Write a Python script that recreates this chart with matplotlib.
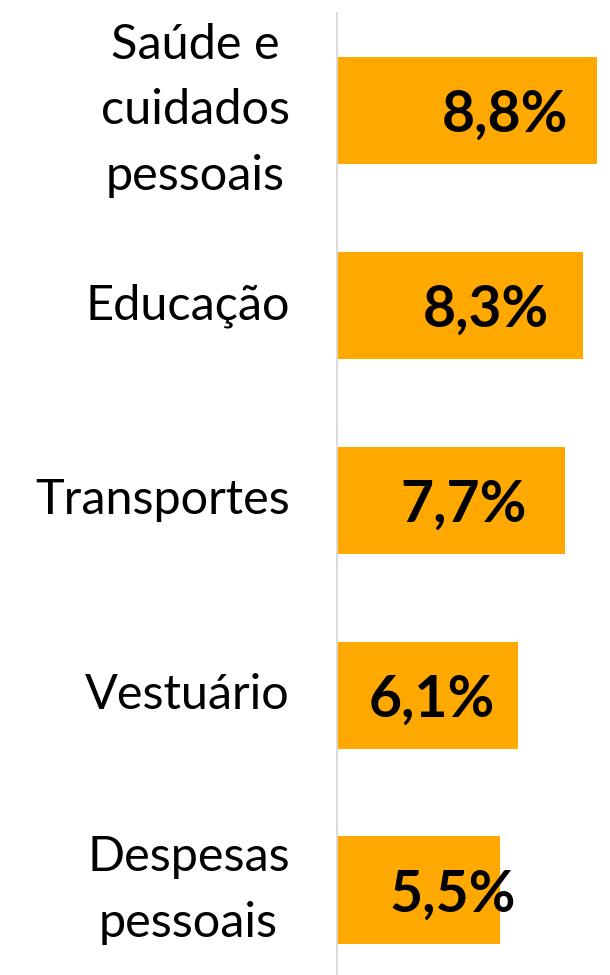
import matplotlib
matplotlib.use("Agg")
import matplotlib.pyplot as plt

# data, top to bottom as in the chart
categories = ["Saúde e\ncuidados\npessoais", "Educação", "Transportes",
              "Vestuário", "Despesas\npessoais"]
values = [8.8, 8.3, 7.7, 6.1, 5.5]
value_labels = ["8,8%", "8,3%", "7,7%", "6,1%", "5,5%"]

# where the right edge of each value label sits (x units), hand placed in the original
label_pos = [7.82, 7.17, 6.43, 5.35, 6.06]

bar_color = "#FFA800"

plt.rcParams['font.family'] = ['Lato', 'DejaVu Sans']

fig = plt.figure(figsize=(6.1, 9.75), dpi=100)
# axes runs past the bottom edge, the picture is cropped there
ax = fig.add_axes([337 / 610, -12.5 / 975, 273 / 610, 974.5 / 975])

y = list(range(len(categories)))
ax.barh(y, values, height=0.55, color=bar_color)

for yi, xp, lab in zip(y, label_pos, value_labels):
    ax.text(xp, yi, lab, ha='right', va='center_baseline', fontsize=41,
            fontweight='bold', color='black')

ax.set_xlim(0, 273 / 29.6)
ax.set_ylim(len(categories) - 0.5, -0.5)
ax.set_yticks(y)
ax.set_yticklabels(categories, fontsize=35, multialignment='center',
                   linespacing=1.6, va='center')
ax.tick_params(axis='y', length=0, pad=34)
ax.set_xticks([])

for s in ['top', 'right', 'bottom']:
    ax.spines[s].set_visible(False)
ax.spines['left'].set_color('#D9D9D9')
ax.spines['left'].set_linewidth(1.3)

fig.savefig("out.png", dpi=100)
